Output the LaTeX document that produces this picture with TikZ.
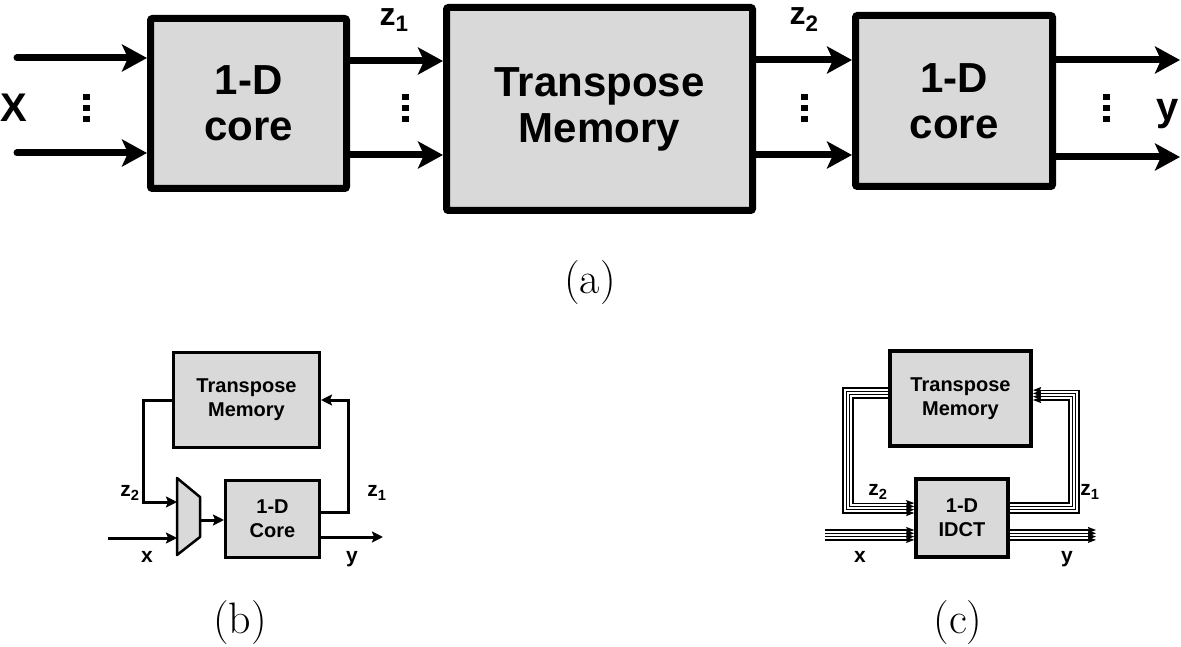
\documentclass[tikz,border=0pt]{standalone}
\usepackage{fontspec}
\newfontfamily\arial{Liberation Sans}
\usetikzlibrary{arrows.meta,calc}
\definecolor{boxgray}{RGB}{217,217,217}
\tikzset{
  bigbox/.style={draw,fill=boxgray,line width=7pt,rounded corners=2pt,inner sep=0pt,
    font=\arial\bfseries\fontsize{42}{46}\selectfont,align=center},
  bigarr/.style={line width=7pt,line cap=round,-{Stealth[length=25pt,width=27pt,inset=6pt]}},
  biglbl/.style={inner sep=0pt,font=\arial\bfseries\fontsize{40}{46}\selectfont},
  zlbl/.style={inner sep=0pt,font=\arial\bfseries\fontsize{32}{32}\selectfont},
  smallbox/.style={draw,fill=boxgray,line width=3pt,inner sep=0pt,
    font=\arial\bfseries\fontsize{20}{24}\selectfont,align=center},
  smarr/.style={line width=3pt,-{Stealth[length=11pt,width=11pt,inset=2pt]}},
  smlbl/.style={inner sep=0pt,font=\arial\bfseries\fontsize{21}{21}\selectfont},
  bus/.style={line width=1.2pt,-{Stealth[length=8pt,width=6pt,inset=1pt]}},
  caplbl/.style={inner sep=0pt,font=\fontsize{44}{44}\selectfont},
  vdots/.pic={
    \fill (-3.5,-14) rectangle (3.5,-8);
    \fill (-3.5,-3) rectangle (3.5,3);
    \fill (-3.5,8) rectangle (3.5,14);
  }
}
\begin{document}
\begin{tikzpicture}[x=1pt,y=-1pt]
\useasboundingbox (0,0) rectangle (1181,647);

% ---------------- (a) ----------------
\node[bigbox,minimum width=196pt,minimum height=170pt] (core1) at (248.5,103.5) {1-D\\core};
\node[bigbox,minimum width=306pt,minimum height=203pt] (mem) at (599.5,109) {Transpose\\Memory};
\node[bigbox,minimum width=197pt,minimum height=171pt] (core2) at (954,101) {1-D\\core};

\coordinate (xin1) at (17,58);
\coordinate (xin2) at (17,153);
\coordinate (za1) at (0,61);
\coordinate (za2) at (0,155);
\coordinate (zb1) at (0,60);
\coordinate (zb2) at (0,155);
\coordinate (yout1) at (1180,60);
\coordinate (yout2) at (1180,157);

\draw[bigarr] (xin1) -- (core1.west |- xin1);
\draw[bigarr] (xin2) -- (core1.west |- xin2);
\draw[bigarr] (core1.east |- za1) -- (mem.west |- za1);
\draw[bigarr] (core1.east |- za2) -- (mem.west |- za2);
\draw[bigarr] (mem.east |- zb1) -- (core2.west |- zb1);
\draw[bigarr] (mem.east |- zb2) -- (core2.west |- zb2);
\draw[bigarr] (core2.east |- yout1) -- (yout1);
\draw[bigarr] (core2.east |- yout2) -- (yout2);

\pic at (86,108) {vdots};
\pic at (405,108) {vdots};
\pic at (804,108) {vdots};
\pic at (1106,108) {vdots};

\node[biglbl] (lX) at (14,108) {X};
\node[biglbl] (ly) at (1168,114) {y};
\node[zlbl] (lz1) at (394,20) {z\textsubscript{1}};
\node[zlbl] (lz2) at (804,20) {z\textsubscript{2}};

\node[caplbl] (capa) at (590,283) {(a)};

% ---------------- (b) ----------------
\node[smallbox,minimum width=146pt,minimum height=95pt] (memb) at (246.5,400) {Transpose\\Memory};
\node[smallbox,minimum width=94pt,minimum height=77pt] (coreb) at (272.5,519) {1-D\\Core};
\draw[line width=2.5pt,fill=boxgray,line join=round] (177,478) -- (200,497) -- (200,537) -- (177,555) -- cycle;
\coordinate (muxA) at (177,502);
\coordinate (muxB) at (177,538);
\coordinate (muxO) at (200,520);
\coordinate (fbL) at (143,450);
\coordinate (fbR) at (348,450);
\coordinate (yz1) at (0,512);
\coordinate (xbin) at (108,538);
\coordinate (ybout) at (383,537);

\draw[smarr] (memb.west) -| (fbL) |- (muxA);
\draw[smarr] (coreb.east |- yz1) -| (fbR) |- (memb.east);
\draw[smarr] (xbin) -- (muxB);
\draw[smarr] (muxO) -- (coreb.west |- muxO);
\draw[smarr] (coreb.east |- ybout) -- (ybout);

\node[smlbl] (bz2) at (130,493) {z\textsubscript{2}};
\node[smlbl] (bz1) at (377,493) {z\textsubscript{1}};
\node[smlbl] (bx) at (147,557) {x};
\node[smlbl] (by) at (352,559) {y};

\node[caplbl] (capb) at (240,623) {(b)};

% ---------------- (c) ----------------
\node[smallbox,line width=4pt,minimum width=141pt,minimum height=95pt] (memc) at (960.5,398.5) {Transpose\\Memory};
\node[smallbox,line width=3.5pt,minimum width=92pt,minimum height=78pt] (idct) at (962,518) {1-D\\IDCT};

\foreach \i in {0,1,2,3} {
  \pgfmathsetmacro\ya{388+3.3*\i}
  \pgfmathsetmacro\xa{843+3.3*\i}
  \pgfmathsetmacro\yb{513-3.3*\i}
  \draw[bus] (memc.west |- 0,\ya) -| (\xa,450) |- (idct.west |- 0,\yb);
  \pgfmathsetmacro\yc{503+3.3*\i}
  \pgfmathsetmacro\xc{1069+3.3*\i}
  \pgfmathsetmacro\yd{400-3.3*\i}
  \draw[bus] (idct.east |- 0,\yc) -| (\xc,450) |- (memc.east |- 0,\yd);
  \pgfmathsetmacro\ye{530+3.3*\i}
  \coordinate (cxin) at (825,\ye);
  \coordinate (cyout) at (1096,\ye);
  \draw[bus] (cxin) -- (idct.west |- cxin);
  \draw[bus] (idct.east |- cyout) -- (cyout);
}

\node[smlbl] (cz2) at (878,492) {z\textsubscript{2}};
\node[smlbl] (cz1) at (1090,492) {z\textsubscript{1}};
\node[smlbl] (cx) at (860,557) {x};
\node[smlbl] (cy) at (1067,559) {y};

\node[caplbl] (capc) at (958,623) {(c)};
\end{tikzpicture}
\end{document}
